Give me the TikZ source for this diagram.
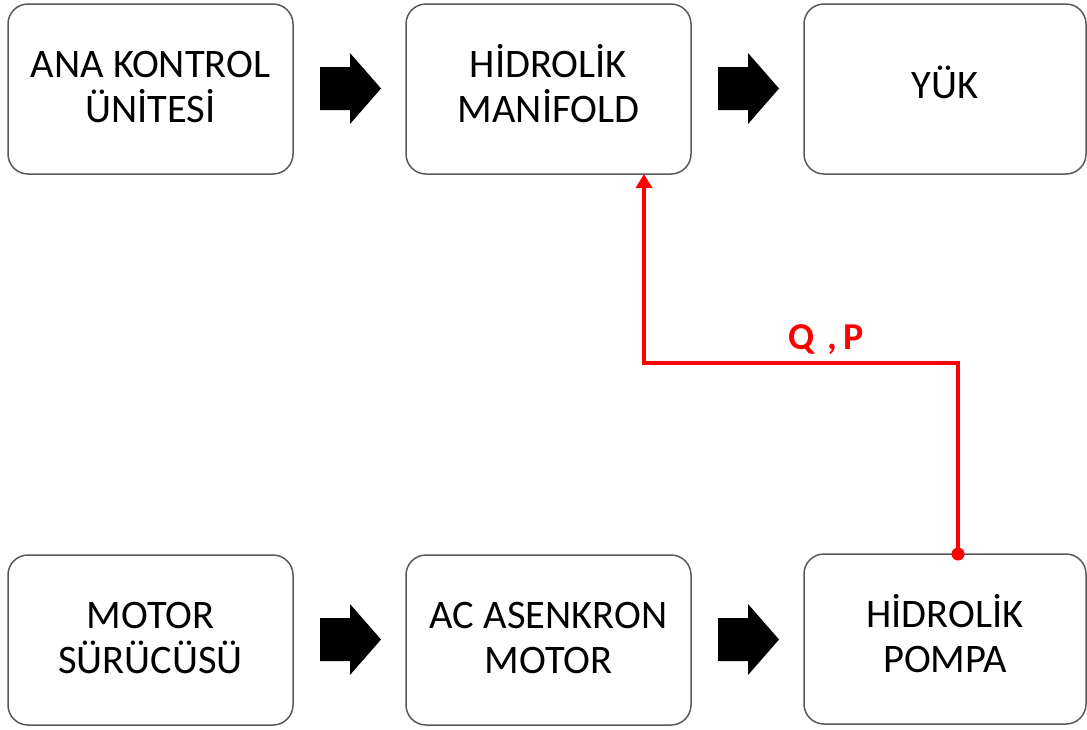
\documentclass[tikz,border=0pt]{standalone}
\usepackage{fontspec}
\setmainfont{Carlito}
\usetikzlibrary{arrows.meta,calc}
\tikzset{
  blk/.style={draw=black!65, line width=1.5pt, rounded corners=20pt, minimum width=285pt, minimum height=170pt, align=center, font=\fontsize{40.5}{45}\selectfont, inner sep=0pt},
  oneline/.style={text height=25pt, text depth=6pt},
  twoline/.style={text height=70pt, text depth=4pt},
  flow/.style={draw=red, line width=4.2pt, -{Triangle[width=16pt,length=14pt]}},
  qlabel/.style={text=red, font=\fontsize{38}{44}\selectfont\bfseries}
}
\begin{document}
\begin{tikzpicture}[x=1pt,y=-1pt]
\useasboundingbox (0,0) rectangle (1087,729);
\node[blk,twoline] (A) at (150.5,89) {ANA KONTROL\\ÜNİTESİ};
\node[blk,twoline] (B) at (548.5,89) {HİDROLİK\\MANİFOLD};
\node[blk,oneline, minimum width=282pt] (C) at (945,89) {YÜK};
\node[blk,twoline] (D) at (150.5,640) {MOTOR\\SÜRÜCÜSÜ};
\node[blk,twoline] (E) at (548.5,640) {AC ASENKRON\\MOTOR};
\node[blk,twoline, minimum width=282pt] (F) at (945,639) {HİDROLİK\\POMPA};
\coordinate (a1) at (350.5,88.5);
\coordinate (a2) at (748.5,88.5);
\coordinate (a3) at (350.5,639.5);
\coordinate (a4) at (748.5,639.5);
\fill[black] ($(a1)+(-30.5,-21.5)$) -- ++(30,0) -- ++(0,-14) -- ++(31,35.5) -- ++(-31,35.5) -- ++(0,-14) -- ++(-30,0) -- cycle;
\fill[black] ($(a2)+(-30.5,-21.5)$) -- ++(30,0) -- ++(0,-14) -- ++(31,35.5) -- ++(-31,35.5) -- ++(0,-14) -- ++(-30,0) -- cycle;
\fill[black] ($(a3)+(-30.5,-21.5)$) -- ++(30,0) -- ++(0,-14) -- ++(31,35.5) -- ++(-31,35.5) -- ++(0,-14) -- ++(-30,0) -- cycle;
\fill[black] ($(a4)+(-30.5,-21.5)$) -- ++(30,0) -- ++(0,-14) -- ++(31,35.5) -- ++(-31,35.5) -- ++(0,-14) -- ++(-30,0) -- cycle;
\coordinate (p0) at (958,554);
\coordinate (p1) at (958,363);
\coordinate (p2) at (644,363);
\coordinate (p3) at (644,174);
\draw[flow] (p0) -- (p1) -- (p2) -- (p3);
\fill[red] (p0) circle (6.5pt);
\node[qlabel] (q) at (826,340) {Q\,\,,\,P};
\end{tikzpicture}
\end{document}
